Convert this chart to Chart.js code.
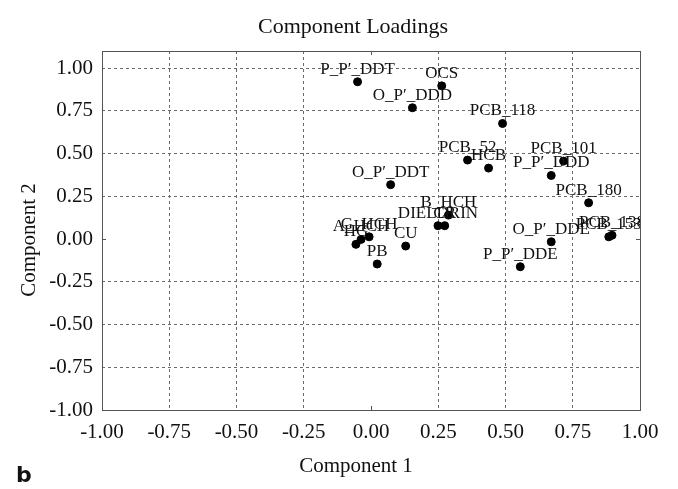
<!DOCTYPE html>
<html>
<head>
<meta charset="utf-8">
<script src="https://cdn.jsdelivr.net/npm/chart.js@4/dist/chart.umd.min.js"></script>
<style>
  html, body { margin: 0; padding: 0; background: #fff; }
  #wrap { width: 678px; height: 489px; }
</style>
</head>
<body>
<div id="wrap"><canvas id="loadings" width="678" height="489"></canvas></div>
<script>
// variable names and their loadings on the first two components
const VARIABLES = [
    "P_P\u2032_DDT", "OCS", "O_P\u2032_DDD", "PCB_118", "PCB_52", "HCB",
    "PCB_101", "P_P\u2032_DDD", "PCB_180", "O_P\u2032_DDT", "B_HCH", "DIELDRIN",
    "CR", "O_P\u2032_DDE", "P_P\u2032_DDE", "PCB_153", "PCB_138", "A_HCH",
    "G_HCH", "HG", "PB", "CU"
];
const COMPONENT_1 = [
    -0.050, 0.263, 0.154, 0.489, 0.359, 0.437,
    0.716, 0.670, 0.809, 0.073, 0.288, 0.249,
    0.274, 0.670, 0.555, 0.884, 0.896, -0.037,
    -0.007, -0.056, 0.023, 0.129
];
const COMPONENT_2 = [
    0.920, 0.896, 0.768, 0.676, 0.462, 0.415,
    0.456, 0.372, 0.212, 0.318, 0.140, 0.078,
    0.078, -0.016, -0.162, 0.013, 0.022, -0.002,
    0.013, -0.031, -0.146, -0.041
];
const AXIS_TICKS = [-1, -0.75, -0.5, -0.25, 0, 0.25, 0.5, 0.75, 1];

const SERIF = "'Liberation Serif', 'Times New Roman', serif";

function gridColor(ctx) {
    const v = ctx.tick ? ctx.tick.value : null;
    if (v === 0 || v === -1) return 'rgba(0,0,0,0)';
    return '#6a6a6a';
}

// frame, point names and the free-standing captions
const decorations = {
    id: 'decorations',
    afterDatasetsDraw(chart) {
        const { ctx, chartArea: a } = chart;
        const xs = chart.scales.x, ys = chart.scales.y;

        ctx.save();
        ctx.strokeStyle = '#555';
        ctx.lineWidth = 1;
        ctx.strokeRect(a.left + 0.5, a.top + 0.5, a.right - a.left, a.bottom - a.top);

        // short ticks where the zero lines would be
        const x0 = Math.round(xs.getPixelForValue(0)) + 0.5;
        const y0 = Math.round(ys.getPixelForValue(0)) + 0.5;
        ctx.beginPath();
        ctx.moveTo(x0, a.bottom); ctx.lineTo(x0, a.bottom - 4);
        ctx.moveTo(x0, a.top); ctx.lineTo(x0, a.top + 4);
        ctx.moveTo(a.left, y0); ctx.lineTo(a.left + 4, y0);
        ctx.moveTo(a.right, y0); ctx.lineTo(a.right - 4, y0);
        ctx.stroke();
        ctx.restore();

        ctx.save();
        ctx.beginPath();
        ctx.rect(a.left, a.top, a.right - a.left, a.bottom - a.top);
        ctx.clip();
        ctx.fillStyle = '#111';
        ctx.font = '17px ' + SERIF;
        ctx.textAlign = 'center';
        ctx.textBaseline = 'alphabetic';
        VARIABLES.forEach((name, i) => {
            const px = xs.getPixelForValue(COMPONENT_1[i]);
            const py = ys.getPixelForValue(COMPONENT_2[i]);
            ctx.fillText(name, px, py - 8);
        });
        ctx.restore();

        ctx.save();
        ctx.fillStyle = '#111';
        ctx.textAlign = 'center';
        ctx.textBaseline = 'middle';
        ctx.font = '22px ' + SERIF;
        ctx.fillText('Component Loadings', 353, 27);
        ctx.font = '21px ' + SERIF;
        ctx.fillText('Component 1', 356, 466);
        ctx.save();
        ctx.translate(29, 240);
        ctx.rotate(-Math.PI / 2);
        ctx.fillText('Component 2', 0, 0);
        ctx.restore();
        ctx.textAlign = 'left';
        ctx.font = "bold 22px 'DejaVu Sans', 'Liberation Sans', sans-serif";
        ctx.fillText('b', 16, 476);
        ctx.restore();
    }
};

const points = COMPONENT_1.map((x, i) => ({ x: x, y: COMPONENT_2[i] }));

new Chart(document.getElementById('loadings'), {
    type: 'scatter',
    data: {
        datasets: [{
            label: 'Loadings',
            data: points,
            backgroundColor: '#000',
            borderColor: '#000',
            pointRadius: 4,
            pointHoverRadius: 4
        }]
    },
    options: {
        responsive: false,
        animation: false,
        layout: { padding: { left: 0, right: 38, top: 51, bottom: 0 } },
        plugins: {
            legend: { display: false },
            tooltip: { enabled: false },
            title: { display: false }
        },
        scales: {
            x: {
                type: 'linear',
                min: -1,
                max: 1,
                afterBuildTicks: (scale) => { scale.ticks = AXIS_TICKS.map(v => ({ value: v })); },
                afterFit: (scale) => { scale.height = 79; },
                border: { display: false },
                grid: { color: gridColor, drawTicks: false, lineWidth: 1 },
                ticks: {
                    color: '#111',
                    padding: 10,
                    maxRotation: 0,
                    autoSkip: false,
                    font: { family: SERIF, size: 21 },
                    callback: (v) => Number(v).toFixed(2)
                }
            },
            y: {
                type: 'linear',
                min: -1,
                max: 1.1,
                afterBuildTicks: (scale) => { scale.ticks = AXIS_TICKS.map(v => ({ value: v })); },
                afterFit: (scale) => { scale.width = 102; },
                border: { display: false },
                grid: { color: gridColor, drawTicks: false, lineWidth: 1 },
                ticks: {
                    color: '#111',
                    padding: 9,
                    autoSkip: false,
                    font: { family: SERIF, size: 21 },
                    callback: (v) => Number(v).toFixed(2)
                }
            }
        }
    },
    plugins: [{
        id: 'dashedGrid',
        beforeDraw(chart) {
            ['x', 'y'].forEach(k => {
                chart.options.scales[k].grid.borderDash = [3, 3];
                chart.scales[k].options.border.dash = [3, 3];
            });
        }
    }, decorations]
});
</script>
</body>
</html>
